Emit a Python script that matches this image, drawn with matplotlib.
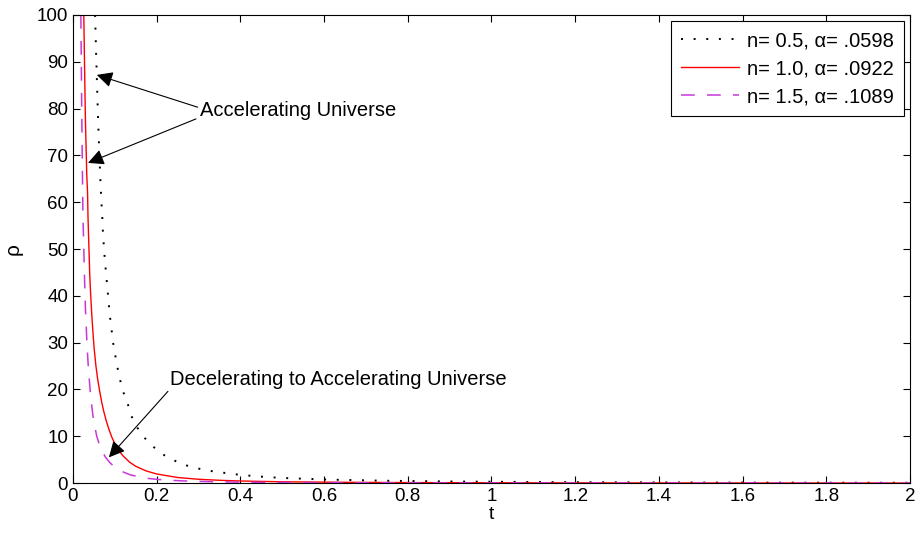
import matplotlib.pyplot as plt

plt.rcParams['font.family'] = ['Liberation Sans', 'DejaVu Sans']

# values
t_05 = [0.053, 0.055, 0.057, 0.060, 0.062, 0.065, 0.067, 0.070, 0.072, 0.076, 0.080, 0.084,
        0.088, 0.092, 0.096, 0.103, 0.110, 0.120, 0.129, 0.140, 0.150, 0.165, 0.180, 0.205,
        0.232, 0.270, 0.300, 0.335, 0.40, 0.45, 0.50, 0.61, 0.75, 0.90, 1.10, 1.30, 1.50,
        1.75, 2.0]
rho_05 = [100, 93, 87, 78, 73, 66, 62, 57, 53, 48, 44, 40,
          36, 33, 30, 26.4, 23, 19.5, 17.5, 14.3, 12.4, 10.3, 8.8, 6.7,
          5.2, 3.8, 3.1, 2.5, 1.75, 1.38, 1.1, 0.75, 0.5, 0.35, 0.23, 0.17, 0.12,
          0.09, 0.07]

t_10 = [0.026, 0.027, 0.028, 0.029, 0.030, 0.032, 0.033, 0.035, 0.036, 0.038, 0.040, 0.042,
        0.045, 0.048, 0.051, 0.055, 0.059, 0.064, 0.069, 0.074, 0.079, 0.086, 0.093, 0.100,
        0.110, 0.120, 0.135, 0.150, 0.175, 0.200, 0.250, 0.300, 0.35, 0.40, 0.50,
        0.65, 0.80, 1.00, 1.25, 1.50, 1.75, 2.0]
rho_10 = [100, 94, 88, 82, 77, 70, 66, 62, 57, 51, 45, 41,
          36, 32, 28.5, 25, 22.3, 19.6, 17.2, 15.2, 13.5, 11.5, 9.8, 8.4,
          6.9, 5.8, 4.5, 3.6, 2.6, 1.95, 1.2, 0.82, 0.6, 0.45, 0.28,
          0.17, 0.11, 0.07, 0.045, 0.03, 0.022, 0.017]

t_15 = [0.019, 0.020, 0.021, 0.022, 0.023, 0.024, 0.026, 0.028, 0.030, 0.032, 0.034, 0.037,
        0.041, 0.044, 0.048, 0.052, 0.057, 0.063, 0.070, 0.078, 0.088, 0.100, 0.110, 0.122,
        0.136, 0.150, 0.170, 0.190, 0.208, 0.26, 0.33, 0.42, 0.55, 0.70, 0.90, 1.15, 1.40,
        1.70, 2.0]
rho_15 = [100, 90, 80, 72, 64, 57, 50, 43, 37, 33, 29, 24.5,
          20, 17.3, 14.3, 12.2, 10, 8.3, 6.8, 5.5, 4.4, 3.4, 2.8, 2.3,
          1.8, 1.5, 1.1, 0.9, 0.75, 0.48, 0.3, 0.18, 0.11, 0.07, 0.04, 0.025, 0.015,
          0.01, 0.007]

labels = ['n= 0.5, α= .0598', 'n= 1.0, α= .0922', 'n= 1.5, α= .1089']
xticks = [0, 0.2, 0.4, 0.6, 0.8, 1, 1.2, 1.4, 1.6, 1.8, 2]
xticklabels = ['0', '0.2', '0.4', '0.6', '0.8', '1', '1.2', '1.4', '1.6', '1.8', '2']
yticks = list(range(0, 101, 10))

fig = plt.figure(figsize=(9.23, 5.35), dpi=100)
ax = fig.add_axes([0.079, 0.097, 0.907, 0.875])

ax.plot(t_05, rho_05, color='k', linestyle=(0, (1, 5.5)), lw=1.4, label=labels[0])
ax.plot(t_10, rho_10, color='red', linestyle='-', lw=1.0, label=labels[1])
ax.plot(t_15, rho_15, color='#c838d8', linestyle=(0, (9, 8)), lw=1.1, label=labels[2])

ax.set_xlim(0, 2)
ax.set_ylim(0, 100)
ax.set_xticks(xticks)
ax.set_xticklabels(xticklabels)
ax.set_yticks(yticks)
ax.tick_params(direction='in', top=True, right=True, labelsize=13.5, length=5)
ax.set_xlabel('t', fontsize=14, labelpad=1)
ax.set_ylabel('ρ', fontsize=15, labelpad=10)

# annotations: text placed separately, arrows start at the text's left edge
arrow = dict(arrowstyle='-|>', color='k', lw=0.8, mutation_scale=24, shrinkA=0, shrinkB=0)
ax.text(0.303, 79.5, 'Accelerating Universe', fontsize=14.5, va='center')
ax.annotate('', xy=(0.057, 87.2), xytext=(0.298, 80.3), arrowprops=arrow)
ax.annotate('', xy=(0.036, 68.4), xytext=(0.294, 77.8), arrowprops=arrow)
ax.text(0.232, 22.2, 'Decelerating to Accelerating Universe', fontsize=14.5, va='center')
ax.annotate('', xy=(0.086, 5.5), xytext=(0.227, 19.6), arrowprops=arrow)

leg = ax.legend(loc='upper right', fontsize=14.5, fancybox=False, edgecolor='k',
                framealpha=1, borderaxespad=0.3, handlelength=2.9, borderpad=0.5,
                labelspacing=0.45, handletextpad=0.4)
leg.get_frame().set_linewidth(0.8)

plt.savefig('out.png', dpi=100)
